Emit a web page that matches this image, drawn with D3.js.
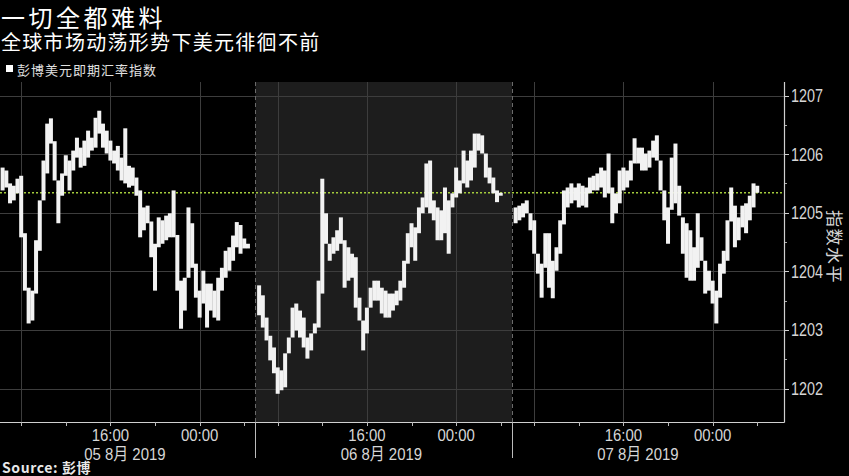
<!DOCTYPE html>
<html><head><meta charset="utf-8">
<script src="https://cdn.jsdelivr.net/npm/d3@7"></script>
<style>
html,body{margin:0;padding:0;background:#000;}
svg{display:block;}
.cjk{font-family:"Noto Sans CJK SC",sans-serif;}
.num{font-family:"Liberation Sans","Noto Sans CJK SC",sans-serif;}
</style></head><body>
<svg id="chart" width="849" height="476"></svg>
<script>
// ---- data ----
const titleText = "一切全都难料";
const subtitleText = "全球市场动荡形势下美元徘徊不前";
const legendText = "彭博美元即期汇率指数";
const yAxisTitle = "指数水平";
const sourceText = "Source: 彭博";
const dayLabels = ["05 8月 2019", "06 8月 2019", "07 8月 2019"];
const timeLabels = ["16:00", "00:00"];
const timeLabelHours = [10, 18];          // hours after 06:00 session start
const minorTickHours = [2, 6, 10, 14, 18, 22];
const gridHours = [2, 10, 18];            // 08:00, 16:00, 00:00
const yTicks = [1202, 1203, 1204, 1205, 1206, 1207];
const lastPrice = 1205.34;
const hoursPerDay = 23;
const barsPerHour = 3;                    // 20-minute bars

const day1High = [null,1205.77,1205.72,1205.50,1205.46,1205.58,1205.63,1204.65,1203.72,1203.67,1204.53,1205.21,1205.89,1206.52,1206.61,1206.22,1205.55,1205.67,1205.98,1205.89,1206.06,1206.28,1206.11,1206.23,1206.40,1206.28,1206.62,1206.74,1206.52,1206.40,1206.23,1206.06,1206.14,1205.94,1206.44,1205.80,1205.77,1205.60,1205.38,1205.09,1205.12,1204.85,1204.47,1204.92,1204.87,1204.95,1204.99,1205.38,1204.62,1203.84,1203.89,1205.09,1204.82,1204.13,1203.67,1204.01,1203.79,1203.79,1203.67,1203.89,1204.06,1204.35,1204.41,1204.61,1204.84,1204.79,1204.56,1204.47];
const day1Low = [null,1205.38,1205.43,1205.16,1205.21,1205.33,1204.58,1203.67,1203.11,1203.16,1203.62,1204.35,1205.21,1205.67,1206.18,1205.55,1204.82,1205.29,1205.63,1205.38,1205.72,1205.94,1205.77,1205.80,1205.94,1206.06,1206.11,1206.35,1206.11,1206.01,1205.89,1205.84,1205.72,1205.55,1205.50,1205.43,1205.46,1205.29,1204.58,1204.70,1204.82,1204.24,1203.67,1204.41,1204.47,1204.53,1204.58,1204.58,1203.67,1203.02,1203.33,1203.89,1204.06,1203.55,1203.21,1203.45,1203.04,1203.33,1203.21,1203.16,1203.67,1203.89,1204.01,1204.18,1204.41,1204.30,1204.39,1204.39];
const day2High = [null,1203.76,1203.59,1203.21,1202.90,1202.70,1202.36,1202.31,1202.60,1202.87,1203.38,1203.45,1203.33,1203.21,1202.87,1202.94,1203.11,1203.84,1205.58,1204.99,1204.47,1204.58,1204.70,1204.92,1204.53,1204.41,1204.30,1204.24,1203.55,1203.16,1203.38,1203.72,1203.84,1203.84,1203.72,1203.67,1203.62,1203.62,1203.67,1203.84,1204.18,1204.65,1204.82,1204.75,1205.09,1205.26,1205.84,1205.89,1205.21,1205.09,1205.04,1205.43,1205.21,1205.33,1205.77,1205.55,1206.06,1205.89,1206.06,1206.35,1206.35,1206.32,1206.01,1205.77,1205.60,1205.38,1205.34];
const day2Low = [null,1203.25,1203.04,1202.82,1202.48,1202.26,1201.91,1201.97,1202.02,1202.60,1202.87,1202.99,1202.87,1202.70,1202.51,1202.65,1202.94,1203.04,1203.62,1204.47,1204.18,1204.30,1204.35,1204.47,1203.72,1203.84,1203.89,1203.38,1203.16,1202.65,1202.94,1203.38,1203.50,1203.50,1203.28,1203.21,1203.21,1203.33,1203.42,1203.50,1203.72,1204.13,1204.41,1204.18,1204.65,1204.99,1205.09,1204.99,1204.87,1204.53,1204.53,1204.65,1204.30,1205.09,1205.26,1205.33,1205.50,1205.43,1205.55,1205.77,1206.06,1206.01,1205.60,1205.50,1205.33,1205.18,1205.29];
const day3High = [null,1205.09,1205.12,1205.16,1205.21,1204.99,1204.87,1204.30,1204.13,1204.65,1204.65,1204.18,1204.41,1204.87,1205.38,1205.43,1205.50,1205.43,1205.50,1205.46,1205.43,1205.60,1205.63,1205.67,1205.77,1205.72,1206.01,1205.43,1205.33,1205.72,1205.77,1205.72,1205.89,1206.27,1206.11,1206.11,1206.01,1206.06,1206.23,1206.32,1205.89,1205.38,1205.09,1205.94,1206.18,1205.46,1204.92,1204.82,1204.70,1204.41,1204.99,1204.58,1204.18,1204.01,1203.84,1203.67,1204.13,1204.35,1204.87,1205.43,1205.12,1204.92,1205.12,1205.16,1205.29,1205.50,1205.46];
const day3Low = [null,1204.82,1204.87,1204.92,1204.99,1204.70,1204.30,1203.96,1203.55,1204.06,1203.72,1203.54,1204.01,1204.30,1204.80,1205.09,1205.16,1205.21,1205.09,1205.12,1205.09,1205.33,1205.38,1205.38,1205.43,1205.26,1205.33,1204.82,1204.99,1205.16,1205.38,1205.43,1205.55,1205.84,1205.84,1205.72,1205.72,1205.77,1205.94,1205.89,1205.38,1204.87,1204.47,1205.05,1205.16,1204.95,1204.30,1203.89,1203.84,1203.84,1204.06,1204.18,1203.62,1203.67,1203.45,1203.11,1203.55,1203.96,1204.18,1204.85,1204.41,1204.53,1204.75,1204.65,1204.87,1205.09,1205.34];

const highs = [day1High, day2High, day3High];
const lows = [day1Low, day2Low, day3Low];

// ---- layout ----
const svg = d3.select("#chart");
const W = 849, H = 476;
const plotLeft = 0, plotRight = 784, plotTop = 82, plotBottom = 422;

const x = d3.scaleLinear().domain([0.1, 70.4]).range([plotLeft, plotRight]);
const y = d3.scaleLinear().domain([1202, 1207]).range([388.5, 95.5]);

svg.append("rect").attr("width", W).attr("height", H).attr("fill", "#000");

// shaded middle day
svg.append("rect")
  .attr("x", x(hoursPerDay)).attr("y", plotTop)
  .attr("width", x(2 * hoursPerDay) - x(hoursPerDay))
  .attr("height", plotBottom - plotTop)
  .attr("fill", "#1d1d1d");

const grid = svg.append("g");
grid.selectAll("line.h").data(yTicks).join("line")
  .attr("x1", plotLeft).attr("x2", plotRight)
  .attr("y1", d => Math.round(y(d)) + 0.5).attr("y2", d => Math.round(y(d)) + 0.5)
  .attr("stroke", "#3d3d3d").attr("stroke-width", 1);
const gridXs = [];
for (let d = 0; d < 3; d++) gridHours.forEach(h => gridXs.push(d * hoursPerDay + h));
grid.selectAll("line.v").data(gridXs).join("line")
  .attr("x1", d => Math.round(x(d)) + 0.5).attr("x2", d => Math.round(x(d)) + 0.5)
  .attr("y1", plotTop).attr("y2", plotBottom)
  .attr("stroke", "#3d3d3d").attr("stroke-width", 1);
grid.selectAll("line.sep").data([hoursPerDay, 2 * hoursPerDay]).join("line")
  .attr("x1", d => Math.round(x(d)) + 0.5).attr("x2", d => Math.round(x(d)) + 0.5)
  .attr("y1", plotTop).attr("y2", plotBottom)
  .attr("stroke", "#6a6a6a").attr("stroke-width", 1).attr("stroke-dasharray", "4,3");

// last price line
svg.append("line")
  .attr("x1", plotLeft).attr("x2", plotRight)
  .attr("y1", y(lastPrice)).attr("y2", y(lastPrice))
  .attr("stroke", "#a4cc3c").attr("stroke-width", 1.6).attr("stroke-dasharray", "2,2");

// bars
const bars = [];
highs.forEach((arr, d) => arr.forEach((hi, i) => {
  const lo = lows[d][i];
  if (hi != null && lo != null) bars.push({h: d * hoursPerDay + i / barsPerHour, hi, lo});
}));
const bw = 4.0;
svg.append("g").selectAll("rect").data(bars).join("rect")
  .attr("x", d => x(d.h) - bw / 2)
  .attr("width", bw)
  .attr("y", d => y(d.hi))
  .attr("height", d => Math.max(1.5, y(d.lo) - y(d.hi)))
  .attr("fill", "#f2f2f2");

// right axis: ticks
svg.append("g").selectAll("line").data(yTicks).join("line")
  .attr("x1", plotRight).attr("x2", plotRight + 5)
  .attr("y1", d => Math.round(y(d)) + 0.5).attr("y2", d => Math.round(y(d)) + 0.5)
  .attr("stroke", "#cfcfcf");
svg.append("g").selectAll("line").data(yTicks.slice(0, -1).map(v => v + 0.5)).join("line")
  .attr("x1", plotRight).attr("x2", plotRight + 3)
  .attr("y1", d => Math.round(y(d)) + 0.5).attr("y2", d => Math.round(y(d)) + 0.5)
  .attr("stroke", "#aaa");
svg.append("g").selectAll("text").data(yTicks).join("text")
  .attr("class", "num")
  .attr("transform", d => `translate(${plotRight + 7},${y(d) + 6.5}) scale(0.8,1)`)
  .attr("fill", "#d6d6d6").attr("font-size", 18)
  .text(d3.format("d"));

// axis lines
svg.append("line").attr("x1", plotRight + 0.5).attr("x2", plotRight + 0.5)
  .attr("y1", plotTop).attr("y2", plotBottom + 0.5).attr("stroke", "#d0d0d0").attr("stroke-width", 1.2);
svg.append("line").attr("x1", plotLeft).attr("x2", plotRight + 0.5)
  .attr("y1", plotBottom + 0.5).attr("y2", plotBottom + 0.5).attr("stroke", "#d0d0d0").attr("stroke-width", 1.2);

// bottom ticks
const tickHs = [];
for (let d = 0; d < 3; d++) minorTickHours.forEach(h => tickHs.push(d * hoursPerDay + h));
svg.append("g").selectAll("line").data(tickHs).join("line")
  .attr("x1", d => Math.round(x(d)) + 0.5).attr("x2", d => Math.round(x(d)) + 0.5)
  .attr("y1", plotBottom).attr("y2", plotBottom + 4)
  .attr("stroke", "#bbb");
svg.append("g").selectAll("line").data([hoursPerDay, 2 * hoursPerDay]).join("line")
  .attr("x1", d => Math.round(x(d)) + 0.5).attr("x2", d => Math.round(x(d)) + 0.5)
  .attr("y1", plotBottom).attr("y2", plotBottom + 36)
  .attr("stroke", "#bbb");

// time labels
const tl = [];
for (let d = 0; d < 3; d++) timeLabelHours.forEach((h, k) => tl.push({h: d * hoursPerDay + h, t: timeLabels[k]}));
svg.append("g").selectAll("text").data(tl).join("text")
  .attr("class", "num")
  .attr("transform", d => `translate(${x(d.h)},${plotBottom + 19}) scale(0.88,1)`)
  .attr("text-anchor", "middle").attr("fill", "#d6d6d6").attr("font-size", 17)
  .text(d => d.t);
// day labels
svg.append("g").selectAll("text").data(dayLabels).join("text")
  .attr("class", "num")
  .attr("transform", (d, i) => `translate(${x(i * hoursPerDay + 11.3)},${plotBottom + 38}) scale(0.88,1)`)
  .attr("text-anchor", "middle").attr("fill", "#d6d6d6").attr("font-size", 17)
  .text(d => d);

// y axis title (rotated)
svg.append("text").attr("class", "cjk")
  .attr("transform", `translate(828,247) rotate(90)`)
  .attr("text-anchor", "middle").attr("fill", "#d6d6d6").attr("font-size", 17)
  .attr("letter-spacing", 1.5)
  .text(yAxisTitle);

// titles
svg.append("text").attr("class", "cjk").attr("x", 1).attr("y", 27)
  .attr("fill", "#fff").attr("font-size", 24).attr("letter-spacing", 3.5).text(titleText);
svg.append("text").attr("class", "cjk").attr("x", 1).attr("y", 50)
  .attr("fill", "#fff").attr("font-size", 20).attr("letter-spacing", 1.3).text(subtitleText);
svg.append("rect").attr("x", 6).attr("y", 65).attr("width", 7).attr("height", 7).attr("fill", "#fff");
svg.append("text").attr("class", "cjk").attr("x", 17).attr("y", 75)
  .attr("fill", "#e0e0e0").attr("font-size", 13).attr("letter-spacing", 1).text(legendText);
svg.append("text").attr("class", "cjk").attr("x", 2).attr("y", 473)
  .attr("fill", "#e8e8e8").attr("font-size", 14).attr("font-weight", "bold").attr("letter-spacing", 0.6).text(sourceText);
</script>
</body></html>
